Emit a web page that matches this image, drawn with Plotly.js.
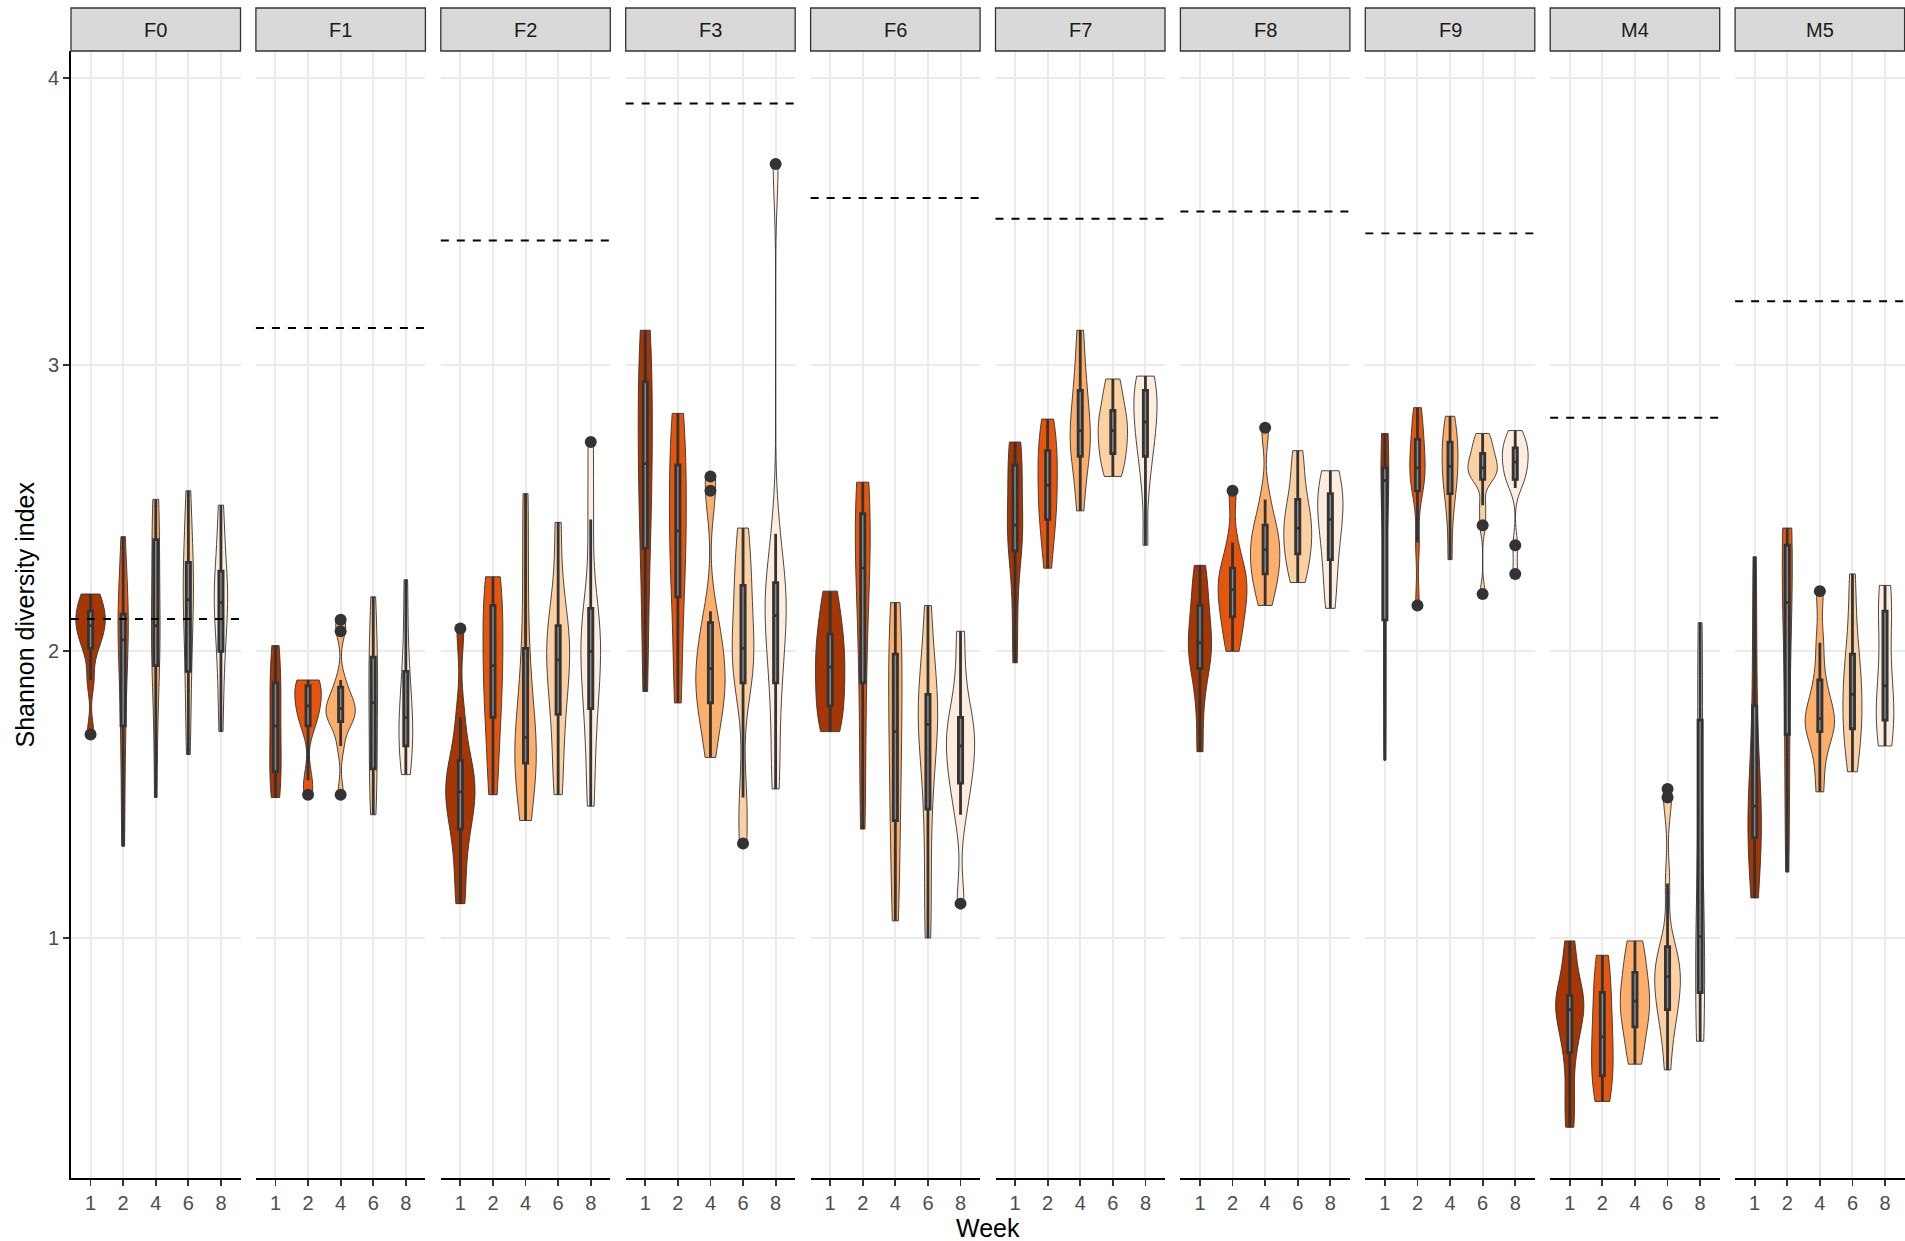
<!DOCTYPE html>
<html>
<head>
<meta charset="utf-8">
<script src="https://cdn.plot.ly/plotly-3.0.1.min.js"></script>
<style>html,body{margin:0;padding:0;background:#fff;}</style>
</head>
<body>
<div id="chart" style="width:1905px;height:1241px;"></div>
<script>
// ---------------- data ----------------
const panels = ['F0', 'F1', 'F2', 'F3', 'F6', 'F7', 'F8', 'F9', 'M4', 'M5'];
const weeks = ['1', '2', '4', '6', '8'];
const weekColors = ['#A63603', '#E6550D', '#FDAE6B', '#FDD0A2', '#FEEDDE'];
// dashed reference line per panel
const baseline = [2.113, 3.128, 3.433, 3.911, 3.581, 3.509, 3.534, 3.458, 2.815, 3.221];

// estimated Shannon index samples per panel, one list per week (1,2,4,6,8)
const F0 = [
  [1.71, 1.90, 2.01, 2.04, 2.08, 2.10, 2.12, 2.14, 2.19, 2.20],
  [1.32, 1.55, 1.74, 1.86, 2.00, 2.08, 2.11, 2.13, 2.25, 2.40],
  [1.49, 1.75, 1.95, 2.02, 2.06, 2.12, 2.28, 2.39, 2.48, 2.53],
  [1.64, 1.80, 1.93, 2.05, 2.15, 2.21, 2.27, 2.31, 2.45, 2.56],
  [1.72, 1.88, 2.00, 2.08, 2.15, 2.19, 2.24, 2.28, 2.40, 2.51]
];
const F1 = [
  [1.49, 1.53, 1.58, 1.64, 1.70, 1.78, 1.85, 1.89, 1.97, 2.02],
  [1.50, 1.55, 1.74, 1.77, 1.80, 1.82, 1.86, 1.88, 1.90, 1.90],
  [1.50, 1.67, 1.75, 1.76, 1.78, 1.79, 1.81, 1.83, 1.85, 1.90, 2.07, 2.11],
  [1.43, 1.50, 1.59, 1.67, 1.78, 1.86, 1.93, 1.98, 2.10, 2.19],
  [1.57, 1.61, 1.67, 1.72, 1.76, 1.78, 1.88, 1.93, 2.08, 2.25]
];
const F2 = [
  [1.12, 1.26, 1.38, 1.44, 1.49, 1.53, 1.58, 1.62, 1.77, 2.08],
  [1.50, 1.62, 1.77, 1.84, 1.92, 1.98, 2.08, 2.16, 2.22, 2.26],
  [1.41, 1.52, 1.61, 1.64, 1.67, 1.73, 1.86, 2.01, 2.28, 2.55],
  [1.50, 1.64, 1.78, 1.86, 1.94, 2.00, 2.05, 2.09, 2.22, 2.45],
  [1.46, 1.64, 1.80, 1.88, 1.97, 2.03, 2.10, 2.15, 2.46, 2.73]
];
const F3 = [
  [1.86, 2.12, 2.36, 2.48, 2.62, 2.69, 2.84, 2.94, 3.05, 3.12],
  [1.82, 1.98, 2.19, 2.28, 2.38, 2.46, 2.58, 2.65, 2.77, 2.83],
  [1.63, 1.74, 1.80, 1.84, 1.88, 1.92, 1.96, 2.01, 2.06, 2.14, 2.56, 2.61],
  [1.33, 1.49, 1.89, 1.94, 1.98, 2.04, 2.15, 2.23, 2.33, 2.43],
  [1.52, 1.70, 1.89, 1.98, 2.08, 2.17, 2.20, 2.24, 2.41, 3.70]
];
const F6 = [
  [1.72, 1.76, 1.81, 1.87, 1.92, 1.97, 2.02, 2.06, 2.14, 2.21],
  [1.38, 1.62, 1.89, 2.05, 2.24, 2.34, 2.43, 2.48, 2.54, 2.59],
  [1.06, 1.22, 1.41, 1.52, 1.67, 1.77, 1.90, 1.99, 2.09, 2.17],
  [1.00, 1.22, 1.45, 1.60, 1.72, 1.77, 1.81, 1.85, 1.98, 2.16],
  [1.12, 1.43, 1.54, 1.58, 1.64, 1.70, 1.74, 1.77, 1.90, 2.07]
];
const F7 = [
  [1.96, 2.15, 2.35, 2.39, 2.42, 2.46, 2.58, 2.65, 2.70, 2.73],
  [2.29, 2.39, 2.46, 2.51, 2.55, 2.61, 2.67, 2.70, 2.76, 2.81],
  [2.49, 2.60, 2.68, 2.72, 2.75, 2.79, 2.86, 2.91, 3.00, 3.12],
  [2.61, 2.64, 2.69, 2.72, 2.75, 2.79, 2.82, 2.84, 2.91, 2.95],
  [2.37, 2.58, 2.68, 2.74, 2.78, 2.82, 2.87, 2.91, 2.94, 2.96]
];
const F8 = [
  [1.65, 1.82, 1.94, 1.98, 2.01, 2.05, 2.11, 2.16, 2.24, 2.30],
  [2.00, 2.06, 2.12, 2.16, 2.19, 2.24, 2.27, 2.29, 2.38, 2.56],
  [2.16, 2.22, 2.27, 2.30, 2.33, 2.38, 2.41, 2.44, 2.53, 2.78],
  [2.24, 2.29, 2.34, 2.38, 2.41, 2.45, 2.49, 2.53, 2.62, 2.70],
  [2.15, 2.23, 2.32, 2.38, 2.44, 2.48, 2.52, 2.55, 2.60, 2.63]
];
const F9 = [
  [1.62, 1.88, 2.11, 2.40, 2.57, 2.62, 2.63, 2.64, 2.71, 2.76],
  [2.16, 2.38, 2.56, 2.59, 2.62, 2.66, 2.70, 2.74, 2.80, 2.85],
  [2.32, 2.46, 2.55, 2.59, 2.62, 2.67, 2.70, 2.73, 2.78, 2.82],
  [2.20, 2.44, 2.51, 2.60, 2.61, 2.62, 2.63, 2.65, 2.66, 2.68, 2.69, 2.72, 2.74, 2.76],
  [2.27, 2.37, 2.57, 2.60, 2.61, 2.63, 2.65, 2.67, 2.68, 2.70, 2.71, 2.73, 2.75, 2.77]
];
const M4 = [
  [0.34, 0.46, 0.60, 0.67, 0.73, 0.77, 0.79, 0.80, 0.90, 0.99],
  [0.43, 0.47, 0.52, 0.58, 0.63, 0.68, 0.75, 0.81, 0.89, 0.94],
  [0.56, 0.62, 0.69, 0.73, 0.76, 0.80, 0.84, 0.88, 0.95, 0.99],
  [0.54, 0.65, 0.72, 0.75, 0.79, 0.83, 0.85, 0.88, 0.91, 0.94, 0.97, 1.19, 1.49, 1.52],
  [0.64, 0.73, 0.81, 0.88, 0.96, 1.05, 1.40, 1.76, 1.92, 2.10]
];
const M5 = [
  [1.14, 1.26, 1.35, 1.39, 1.43, 1.49, 1.62, 1.81, 2.05, 2.33],
  [1.23, 1.46, 1.71, 1.88, 2.10, 2.24, 2.33, 2.37, 2.41, 2.43],
  [1.51, 1.63, 1.72, 1.74, 1.75, 1.78, 1.83, 1.90, 2.03, 2.21],
  [1.58, 1.66, 1.73, 1.77, 1.82, 1.88, 1.94, 1.99, 2.12, 2.27],
  [1.67, 1.70, 1.76, 1.80, 1.85, 1.91, 2.06, 2.14, 2.20, 2.23]
];
const panelData = [F0, F1, F2, F3, F6, F7, F8, F9, M4, M5];

// ---------------- helpers ----------------
function q7(s, p) {
  const h = (s.length - 1) * p, lo = Math.floor(h);
  const hi = Math.min(lo + 1, s.length - 1);
  return s[lo] + (h - lo) * (s[hi] - s[lo]);
}
// R's bw.nrd0 (ggplot default bandwidth)
function nrd0(v) {
  const s = v.slice().sort((a, b) => a - b);
  const n = s.length;
  const m = s.reduce((a, b) => a + b, 0) / n;
  const sd = Math.sqrt(s.reduce((a, b) => a + (b - m) * (b - m), 0) / (n - 1));
  const iqr = q7(s, 0.75) - q7(s, 0.25);
  let lo = Math.min(sd, iqr / 1.34);
  if (!(lo > 0)) lo = sd || 1;
  return 0.9 * lo * Math.pow(n, -0.2);
}
// peak of the gaussian KDE over the data span (for ggplot-like "area" scaling)
function kdePeak(v, bw) {
  const lo = Math.min.apply(null, v), hi = Math.max.apply(null, v);
  let best = 0;
  for (let k = 0; k <= 400; k++) {
    const t = lo + (hi - lo) * k / 400;
    let s = 0;
    for (const x of v) { const z = (t - x) / bw; s += Math.exp(-0.5 * z * z); }
    best = Math.max(best, s / (v.length * bw * Math.sqrt(2 * Math.PI)));
  }
  return best;
}

// ---------------- geometry ----------------
const W = 1905, H = 1241;
const ML = 71, MR = 0, MT = 51, MB = 63;
const PW = W - ML - MR, PH = H - MT - MB;
const pitch = 184.9, pwidth = 169.5;
const stripH = 43;
const boxFull = 0.13; // inner box width in category units

const traces = [];
const shapes = [];
const annotations = [];
const layout = {
  width: W, height: H,
  margin: {l: ML, r: MR, t: MT, b: MB, pad: 0},
  paper_bgcolor: '#ffffff', plot_bgcolor: '#ffffff',
  font: {family: 'Liberation Sans, Arial, sans-serif', color: '#4D4D4D'},
  showlegend: false,
  violinmode: 'overlay',
  hovermode: false,
  yaxis: {
    domain: [0, 1], range: [0.163, 4.094], anchor: 'x',
    tickvals: [1, 2, 3, 4], ticktext: ['1', '2', '3', '4'],
    showgrid: true, gridcolor: '#EBEBEB', gridwidth: 2,
    zeroline: false, showline: true, linecolor: '#000000', linewidth: 1.8,
    ticks: 'outside', ticklen: 6, tickwidth: 1.8, tickcolor: '#333333',
    tickfont: {size: 20, color: '#4D4D4D'}, fixedrange: true
  }
};

panels.forEach((p, i) => {
  const xid = i === 0 ? 'x' : 'x' + (i + 1);
  const xkey = i === 0 ? 'xaxis' : 'xaxis' + (i + 1);
  const d0 = (i * pitch) / PW, d1 = Math.min(1, (i * pitch + pwidth) / PW);
  layout[xkey] = {
    domain: [d0, d1], anchor: 'y', type: 'category',
    categoryorder: 'array', categoryarray: weeks,
    range: [-0.6, 4.6],
    showgrid: true, gridcolor: '#EBEBEB', gridwidth: 2,
    zeroline: false, showline: true, linecolor: '#000000', linewidth: 1.8,
    ticks: 'outside', ticklen: 6, tickwidth: 1.8, tickcolor: '#333333',
    tickfont: {size: 20, color: '#4D4D4D'}, fixedrange: true
  };
  const bws = panelData[i].map(nrd0);
  const peaks = panelData[i].map((v, j) => kdePeak(v, bws[j]));
  const peakMax = Math.max.apply(null, peaks);
  panelData[i].forEach((vals, j) => {
    const tw = 0.9 * peaks[j] / peakMax;
    traces.push({
      type: 'violin', name: p + ' week ' + weeks[j],
      x0: weeks[j], y: vals,
      xaxis: xid, yaxis: 'y',
      width: tw, scalegroup: p + '_' + weeks[j], scalemode: 'width',
      spanmode: 'hard', bandwidth: bws[j],
      fillcolor: weekColors[j], opacity: 1,
      line: {color: '#333333', width: 0.9},
      points: 'outliers', pointpos: 0, jitter: 0,
      marker: {color: '#333333', size: 12, line: {width: 0}},
      box: {visible: true, width: Math.min(1, boxFull / tw), fillcolor: '#8a8a8a',
            line: {color: '#333333', width: 2.8}},
      meanline: {visible: false},
      hoverinfo: 'skip', showlegend: false
    });
  });
  // strip
  shapes.push({
    type: 'rect', xref: xid + ' domain', yref: 'paper',
    x0: 0, x1: 1, y0: 1, y1: 1 + stripH / PH,
    fillcolor: '#D9D9D9', line: {color: '#333333', width: 1.3}, layer: 'above'
  });
  annotations.push({
    xref: xid + ' domain', yref: 'paper', x: 0.5, y: 1 + (stripH / 2) / PH,
    text: p, showarrow: false, xanchor: 'center', yanchor: 'middle',
    font: {size: 20, color: '#1A1A1A'}
  });
  // dashed reference line
  shapes.push({
    type: 'line', xref: xid + ' domain', yref: 'y',
    x0: 0, x1: 1, y0: baseline[i], y1: baseline[i],
    line: {color: '#000000', width: 1.9, dash: '8px,8px'}, layer: 'above'
  });
});

annotations.push({
  xref: 'paper', yref: 'paper', x: (988 - ML) / PW, y: -(1228 - (H - MB)) / PH,
  text: 'Week', showarrow: false, xanchor: 'center', yanchor: 'middle',
  font: {size: 25, color: '#000000'}
});
annotations.push({
  xref: 'paper', yref: 'paper', x: (24 - ML) / PW, y: 0.5,
  text: 'Shannon diversity index', showarrow: false, textangle: -90,
  xanchor: 'center', yanchor: 'middle',
  font: {size: 25, color: '#000000'}
});

layout.shapes = shapes;
layout.annotations = annotations;

Plotly.newPlot('chart', traces, layout, {staticPlot: true, displayModeBar: false});
</script>
</body>
</html>
